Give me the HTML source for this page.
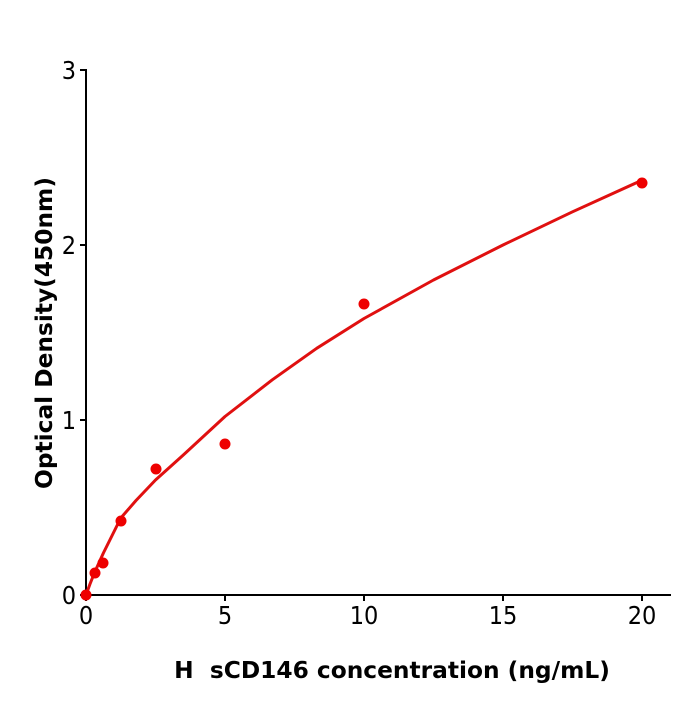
<!DOCTYPE html>
<html><head><style>body{margin:0;background:#fff}</style></head><body>
<svg width="700" height="700" xmlns="http://www.w3.org/2000/svg" font-family="DejaVu Sans, sans-serif">
<rect width="700" height="700" fill="#fff"/>
<g stroke="#000" stroke-width="2" fill="none">
<line x1="86" y1="69" x2="86" y2="596"/>
<line x1="85" y1="595" x2="671" y2="595"/>
<line x1="80" y1="70" x2="86" y2="70"/>
<line x1="80" y1="245" x2="86" y2="245"/>
<line x1="80" y1="420" x2="86" y2="420"/>
<line x1="80" y1="595" x2="86" y2="595"/>
<line x1="86" y1="595" x2="86" y2="601"/>
<line x1="225" y1="595" x2="225" y2="601"/>
<line x1="364" y1="595" x2="364" y2="601"/>
<line x1="503" y1="595" x2="503" y2="601"/>
<line x1="642" y1="595" x2="642" y2="601"/>
</g>
<g font-size="25" fill="#000" text-anchor="end" font-stretch="condensed">
<text x="76" y="79">3</text><text x="76" y="254">2</text><text x="76" y="429">1</text><text x="76" y="604">0</text>
</g>
<g font-size="25" fill="#000" text-anchor="middle" font-stretch="condensed">
<text x="86" y="624">0</text><text x="225" y="624">5</text><text x="364" y="624">10</text><text x="503" y="624">15</text><text x="642" y="624">20</text>
</g>
<text x="392" y="678" font-size="23.3" font-weight="bold" text-anchor="middle" xml:space="preserve">H  sCD146 concentration (ng/mL)</text>
<text transform="translate(52,333) rotate(-90)" font-size="23.3" font-weight="bold" text-anchor="middle">Optical Density(450nm)</text>
<polyline fill="none" stroke="#e01010" stroke-width="3" stroke-linejoin="round" points="86,595 90,584 94.7,572.2 103.4,553 120.8,518 136,500.5 155.5,480 183.3,455 225,416.5 272.3,379.8 316.7,348.3 364,318.5 433.5,280 503,245 572.5,211.8 642,180.2"/>
<g fill="#ee0000">
<circle cx="86" cy="595" r="5.5"/><circle cx="95" cy="573" r="5.5"/><circle cx="103" cy="563" r="5.5"/><circle cx="121" cy="521" r="5.5"/><circle cx="156" cy="469" r="5.5"/><circle cx="225" cy="444" r="5.5"/><circle cx="364" cy="304" r="5.5"/><circle cx="642" cy="183" r="5.5"/>
</g>
</svg>
</body></html>
